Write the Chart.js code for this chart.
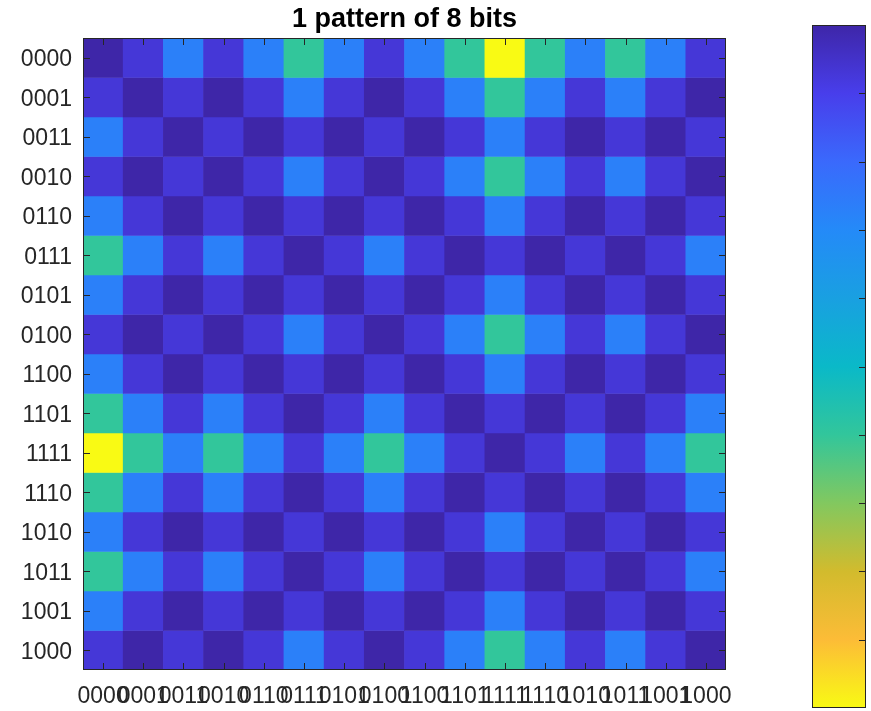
<!DOCTYPE html>
<html>
<head>
<meta charset="utf-8">
<script src="https://cdn.jsdelivr.net/npm/chart.js@4/dist/chart.umd.min.js"></script>
<style>
    body { margin: 0; background: #fff; overflow: hidden; }
    canvas { display: block; }
</style>
</head>
<body>
<canvas id="heat" width="871" height="711"></canvas>
<script>
const chartTitle = "1 pattern of 8 bits";

// Gray-code order, same on both axes
const rowLabels = ["0000", "0001", "0011", "0010", "0110", "0111", "0101", "0100",
                   "1100", "1101", "1111", "1110", "1010", "1011", "1001", "1000"];
const colLabels = ["0000", "0001", "0011", "0010", "0110", "0111", "0101", "0100",
                   "1100", "1101", "1111", "1110", "1010", "1011", "1001", "1000"];

// cell values read against the colour bar (0 = top, 1 = bottom)
const values = [
    [0.00, 0.07, 0.27, 0.07, 0.27, 0.60, 0.27, 0.07, 0.27, 0.60, 1.00, 0.60, 0.27, 0.60, 0.27, 0.07],
    [0.07, 0.00, 0.07, 0.00, 0.07, 0.27, 0.07, 0.00, 0.07, 0.27, 0.60, 0.27, 0.07, 0.27, 0.07, 0.00],
    [0.27, 0.07, 0.00, 0.07, 0.00, 0.07, 0.00, 0.07, 0.00, 0.07, 0.27, 0.07, 0.00, 0.07, 0.00, 0.07],
    [0.07, 0.00, 0.07, 0.00, 0.07, 0.27, 0.07, 0.00, 0.07, 0.27, 0.60, 0.27, 0.07, 0.27, 0.07, 0.00],
    [0.27, 0.07, 0.00, 0.07, 0.00, 0.07, 0.00, 0.07, 0.00, 0.07, 0.27, 0.07, 0.00, 0.07, 0.00, 0.07],
    [0.60, 0.27, 0.07, 0.27, 0.07, 0.00, 0.07, 0.27, 0.07, 0.00, 0.07, 0.00, 0.07, 0.00, 0.07, 0.27],
    [0.27, 0.07, 0.00, 0.07, 0.00, 0.07, 0.00, 0.07, 0.00, 0.07, 0.27, 0.07, 0.00, 0.07, 0.00, 0.07],
    [0.07, 0.00, 0.07, 0.00, 0.07, 0.27, 0.07, 0.00, 0.07, 0.27, 0.60, 0.27, 0.07, 0.27, 0.07, 0.00],
    [0.27, 0.07, 0.00, 0.07, 0.00, 0.07, 0.00, 0.07, 0.00, 0.07, 0.27, 0.07, 0.00, 0.07, 0.00, 0.07],
    [0.60, 0.27, 0.07, 0.27, 0.07, 0.00, 0.07, 0.27, 0.07, 0.00, 0.07, 0.00, 0.07, 0.00, 0.07, 0.27],
    [1.00, 0.60, 0.27, 0.60, 0.27, 0.07, 0.27, 0.60, 0.27, 0.07, 0.00, 0.07, 0.27, 0.07, 0.27, 0.60],
    [0.60, 0.27, 0.07, 0.27, 0.07, 0.00, 0.07, 0.27, 0.07, 0.00, 0.07, 0.00, 0.07, 0.00, 0.07, 0.27],
    [0.27, 0.07, 0.00, 0.07, 0.00, 0.07, 0.00, 0.07, 0.00, 0.07, 0.27, 0.07, 0.00, 0.07, 0.00, 0.07],
    [0.60, 0.27, 0.07, 0.27, 0.07, 0.00, 0.07, 0.27, 0.07, 0.00, 0.07, 0.00, 0.07, 0.00, 0.07, 0.27],
    [0.27, 0.07, 0.00, 0.07, 0.00, 0.07, 0.00, 0.07, 0.00, 0.07, 0.27, 0.07, 0.00, 0.07, 0.00, 0.07],
    [0.07, 0.00, 0.07, 0.00, 0.07, 0.27, 0.07, 0.00, 0.07, 0.27, 0.60, 0.27, 0.07, 0.27, 0.07, 0.00],
];

// parula-like colour map, as seen on the colour bar
const colorStops = [
    [0.0, 62, 38, 168],
    [0.1, 72, 62, 235],
    [0.2, 58, 105, 252],
    [0.3, 36, 138, 248],
    [0.4, 25, 160, 225],
    [0.5, 10, 185, 200],
    [0.6, 50, 198, 155],
    [0.7, 130, 200, 95],
    [0.8, 210, 187, 45],
    [0.9, 252, 188, 55],
    [1.0, 249, 250, 20],
];

const fontFamily = "'Liberation Sans', Arial, Helvetica, sans-serif";
const axisColor = "#262626";

function valueToColor(v) {
    for (let i = 1; i < colorStops.length; i++) {
        const a = colorStops[i - 1];
        const b = colorStops[i];
        if (v <= b[0]) {
            const t = (v - a[0]) / (b[0] - a[0]);
            const c = [1, 2, 3].map((k) => Math.round(a[k] + (b[k] - a[k]) * t));
            return `rgb(${c[0]}, ${c[1]}, ${c[2]})`;
        }
    }
    const last = colorStops[colorStops.length - 1];
    return `rgb(${last[1]}, ${last[2]}, ${last[3]})`;
}

// one floating-bar dataset per row, spanning [row, row + 1]
const datasets = rowLabels.map((label, row) => ({
    label: label,
    data: colLabels.map(() => [row, row + 1]),
    backgroundColor: values[row].map(valueToColor),
    borderWidth: 0,
    barPercentage: 1,
    categoryPercentage: 1,
    grouped: false,
}));

// box, inward tick marks and the colour bar (MATLAB look)
const matlabFrame = {
    id: "matlabFrame",
    afterDatasetsDraw(chart) {
        const { ctx, chartArea: area, scales } = chart;
        const tickLen = 7;
        ctx.save();
        ctx.strokeStyle = axisColor;
        ctx.lineWidth = 1;

        ctx.beginPath();
        scales.x.ticks.forEach((t, i) => {
            const x = Math.round(scales.x.getPixelForTick(i)) + 0.5;
            ctx.moveTo(x, area.top);
            ctx.lineTo(x, area.top + tickLen);
            ctx.moveTo(x, area.bottom);
            ctx.lineTo(x, area.bottom - tickLen);
        });
        scales.y.ticks.forEach((t) => {
            const y = Math.round(scales.y.getPixelForValue(t.value)) + 0.5;
            ctx.moveTo(area.left, y);
            ctx.lineTo(area.left + tickLen, y);
            ctx.moveTo(area.right, y);
            ctx.lineTo(area.right - tickLen, y);
        });
        ctx.stroke();
        ctx.strokeRect(Math.round(area.left) + 0.5, Math.round(area.top) + 0.5,
            Math.round(area.right - area.left) - 1, Math.round(area.bottom - area.top) - 1);

        // colour bar
        const cbLeft = area.right + 86;
        const cbRight = chart.width - 5;
        const cbTop = 25;
        const cbBottom = chart.height - 3;
        const grad = ctx.createLinearGradient(0, cbTop, 0, cbBottom);
        colorStops.forEach((s) => grad.addColorStop(s[0], valueToColor(s[0])));
        ctx.fillStyle = grad;
        ctx.fillRect(cbLeft, cbTop, cbRight - cbLeft, cbBottom - cbTop);
        ctx.beginPath();
        for (let k = 1; k < 10; k++) {
            const y = Math.round(cbTop + (cbBottom - cbTop) * k / 10) + 0.5;
            ctx.moveTo(cbRight, y);
            ctx.lineTo(cbRight - tickLen, y);
        }
        ctx.stroke();
        ctx.strokeRect(Math.round(cbLeft) + 0.5, cbTop + 0.5, Math.round(cbRight - cbLeft) - 1, cbBottom - cbTop - 1);
        ctx.restore();
    },
};

const heatChart = new Chart(document.getElementById("heat").getContext("2d"), {
    type: "bar",
    data: {
        labels: colLabels,
        datasets: datasets,
    },
    options: {
        responsive: false,
        devicePixelRatio: 1,
        animation: false,
        layout: {
            padding: { left: 0, right: 145, top: 0, bottom: 0 },
        },
        plugins: {
            legend: { display: false },
            tooltip: { enabled: false },
            title: {
                display: true,
                text: chartTitle,
                fullSize: false,
                color: "#000",
                font: { family: fontFamily, size: 27, weight: "bold", lineHeight: 1.2 },
                padding: { top: 3, bottom: 2.6 },
            },
        },
        scales: {
            x: {
                type: "category",
                grid: { display: false, drawTicks: false },
                border: { display: false },
                ticks: {
                    autoSkip: false,
                    maxRotation: 0,
                    minRotation: 0,
                    padding: 13,
                    color: axisColor,
                    font: { family: fontFamily, size: 23 },
                },
                afterFit(scale) {
                    scale.height = 41;
                },
            },
            y: {
                type: "linear",
                min: 0,
                max: rowLabels.length,
                reverse: true,
                grid: { display: false, drawTicks: false },
                border: { display: false },
                afterBuildTicks(scale) {
                    scale.ticks = rowLabels.map((_, i) => ({ value: i + 0.5 }));
                },
                ticks: {
                    autoSkip: false,
                    padding: 11,
                    labelOffset: 2,
                    color: axisColor,
                    font: { family: fontFamily, size: 23 },
                    callback: (value) => rowLabels[Math.floor(value)],
                },
                afterFit(scale) {
                    scale.width = 83;
                },
            },
        },
    },
    plugins: [matlabFrame],
});
</script>
</body>
</html>
